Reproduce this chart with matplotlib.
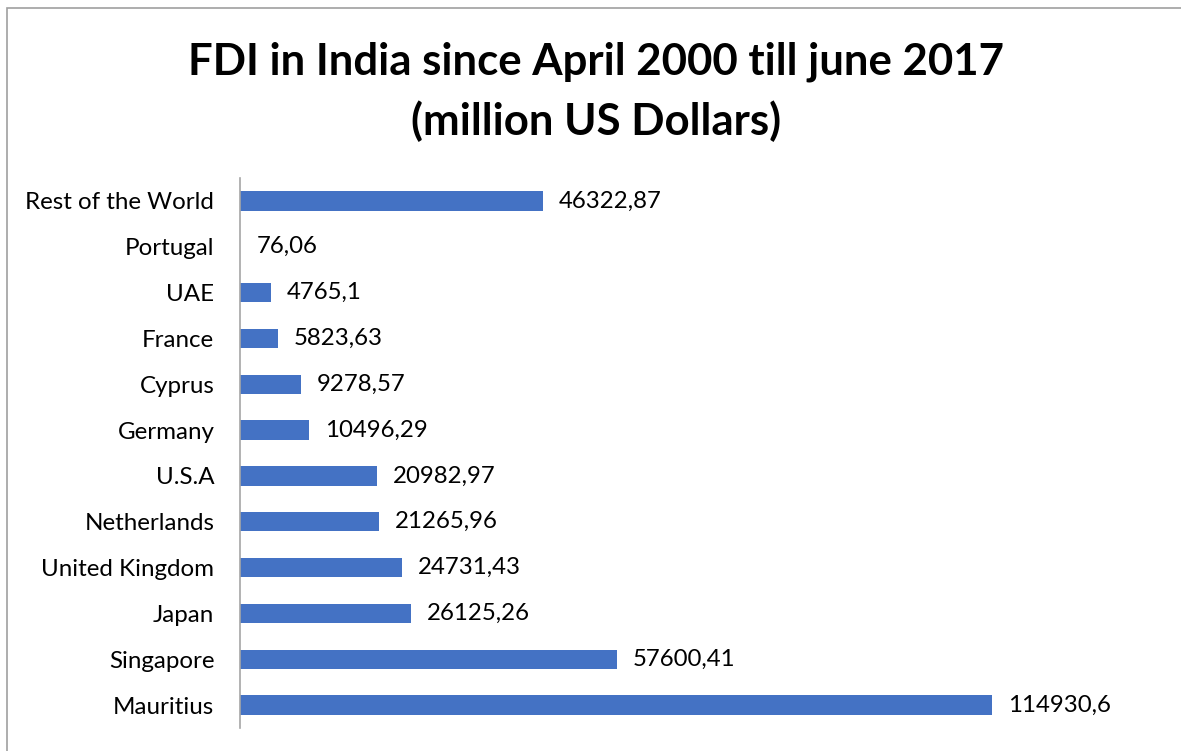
import matplotlib.pyplot as plt
from matplotlib.patches import Rectangle

countries = ['Mauritius', 'Singapore', 'Japan', 'United Kingdom', 'Netherlands',
             'U.S.A', 'Germany', 'Cyprus', 'France', 'UAE', 'Portugal',
             'Rest of the World']
fdi = [114930.6, 57600.41, 26125.26, 24731.43, 21265.96, 20982.97,
       10496.29, 9278.57, 5823.63, 4765.1, 76.06, 46322.87]

plt.rcParams['font.family'] = ['Lato', 'DejaVu Sans']

W, H = 1181, 751
fig = plt.figure(figsize=(W / 100, H / 100), dpi=100)

# chart border (top and left visible)
fig.add_artist(Rectangle((7 / W, -0.1), 1.2, (H - 8) / H + 0.1, transform=fig.transFigure,
                         fill=False, edgecolor='#a0a0a0', linewidth=1.2))

left, right = 240, 1150
top, bottom = 178, 728
ax = fig.add_axes([left / W, 1 - bottom / H, (right - left) / W, (bottom - top) / H])

ypos = range(len(countries))
ax.barh(ypos, fdi, height=0.42, color='#4472C4')
ax.set_ylim(-0.5, len(countries) - 0.5)
xmax = 114930.6 * (right - left) / (992 - left)
ax.set_xlim(0, xmax)

for y, v in zip(ypos, fdi):
    ax.text(v + xmax * 0.0175, y, str(v).replace('.', ','), va='center', ha='left',
            fontsize=17.3, color='black')

ax.set_yticks(list(ypos))
ax.set_yticklabels(countries, fontsize=17.4)
ax.tick_params(axis='y', length=0, pad=18.5)
ax.set_xticks([])
for s in ['top', 'right', 'bottom']:
    ax.spines[s].set_visible(False)
ax.spines['left'].set_color('#a6a6a6')
ax.spines['left'].set_linewidth(1.2)

fig.text(596 / W, 1 - 62 / H, 'FDI in India since April 2000 till june 2017',
         ha='center', va='center', fontsize=31.5, fontweight='bold')
fig.text(596 / W, 1 - 121 / H, '(million US Dollars)',
         ha='center', va='center', fontsize=31.5, fontweight='bold')

fig.savefig('out.png', dpi=100)
